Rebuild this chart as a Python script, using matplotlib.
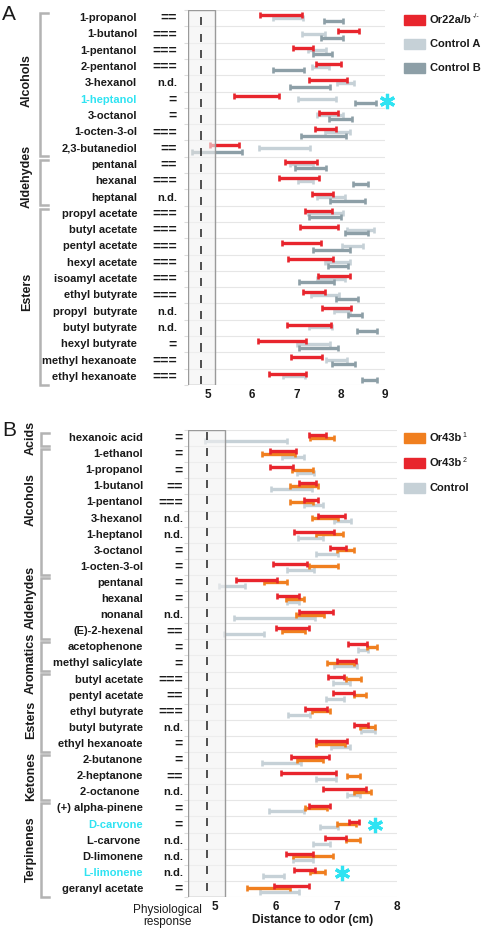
import numpy as np
import matplotlib.pyplot as plt
import matplotlib.transforms as mtrans
from matplotlib.patches import Rectangle

plt.rcParams['font.family'] = ['Liberation Sans', 'DejaVu Sans']

# ---- panel A data ----
a_names = ['1-propanol', '1-butanol', '1-pentanol', '2-pentanol', '3-hexanol',
           '1-heptanol', '3-octanol', '1-octen-3-ol', '2,3-butanediol',
           'pentanal', 'hexanal', 'heptanal',
           'propyl acetate', 'butyl acetate', 'pentyl acetate', 'hexyl acetate',
           'isoamyl acetate', 'ethyl butyrate', 'propyl  butyrate', 'butyl butyrate',
           'hexyl butyrate', 'methyl hexanoate', 'ethyl hexanoate']
a_marks = ['==', '===', '===', '===', 'n.d.', '=', '=', '===', '==',
           '==', '===', 'n.d.',
           '===', '===', '===', '===', '===', '===', 'n.d.', 'n.d.', '=', '===', '===']
# (label, first row, last row, label centre row)
a_groups = [('Alcohols', 0, 8, 3.8), ('Aldehydes', 9, 11, 9.7), ('Esters', 12, 22, 16.8)]
a_cyan = ['1-heptanol']
a_or22 = [(6.17, 7.12), (7.93, 8.41), (6.93, 7.38), (7.44, 8.01), (7.29, 8.14),
          (5.60, 6.61), (7.51, 7.95), (7.41, 7.89), (5.05, 5.71),
          (6.74, 7.46), (6.62, 7.52), (7.35, 7.83),
          (7.20, 7.81), (7.08, 7.95), (6.68, 7.55), (6.82, 7.83), (7.50, 8.20),
          (7.16, 7.65), (7.59, 8.23), (6.80, 7.78), (6.14, 7.22), (6.89, 7.57), (6.39, 7.22)]
a_ctrl_a = [(6.48, 7.16), (7.12, 7.65), (7.26, 7.68), (7.36, 7.74), (7.92, 8.30),
            (7.03, 7.89), (7.46, 8.06), (7.65, 8.20), (6.15, 7.31),
            (6.86, 7.38), (7.03, 7.38), (7.46, 8.10),
            (7.27, 8.06), (8.14, 8.76), (8.04, 8.51), (7.65, 8.21), (7.46, 8.10),
            (7.33, 7.97), (7.86, 8.20), (7.29, 7.80), (7.01, 7.77), (7.67, 8.14), (6.69, 7.20)]
a_ctrl_b = [(7.63, 8.05), (7.56, 8.05), (7.38, 7.81), (6.47, 7.18), (6.86, 7.77),
            (8.32, 8.80), (7.74, 8.25), (7.10, 8.11), (4.65, 5.78),
            (6.97, 7.68), (8.27, 8.62), (7.76, 8.56),
            (7.29, 8.01), (8.10, 8.62), (7.38, 8.20), (7.71, 8.16), (7.06, 7.86),
            (7.89, 8.38), (8.17, 8.48), (8.36, 8.81), (7.07, 7.95), (7.80, 8.32), (8.47, 8.83)]
a_stars = [(9.04, 5)]

# ---- panel B data ----
b_names = ['hexanoic acid', '1-ethanol', '1-propanol', '1-butanol', '1-pentanol',
           '3-hexanol', '1-heptanol', '3-octanol', '1-octen-3-ol',
           'pentanal', 'hexanal', 'nonanal', '(E)-2-hexenal',
           'acetophenone', 'methyl salicylate',
           'butyl acetate', 'pentyl acetate', 'ethyl butyrate', 'butyl butyrate',
           'ethyl hexanoate', '2-butanone', '2-heptanone', '2-octanone ',
           '(+) alpha-pinene', 'D-carvone', 'L-carvone ', 'D-limonene',
           'L-limonene', 'geranyl acetate']
b_marks = ['=', '=', '=', '==', '===', 'n.d.', 'n.d.', '=', '=',
           '=', '=', 'n.d.', '==', '=', '=',
           '===', '==', '===', 'n.d.', '=', '=', '==', 'n.d.',
           '=', '=', 'n.d.', 'n.d.', 'n.d.', '=']
b_groups = [('Acids', 0, 0, 0.0), ('Alcohols', 1, 8, 3.8), ('Aldehydes', 9, 12, 9.9),
            ('Aromatics', 13, 14, 14.0), ('Esters', 15, 19, 17.5), ('Ketones', 20, 22, 21.0),
            ('Terpinenes', 23, 28, 25.5)]
b_cyan = ['D-carvone', 'L-limonene']
b_or43b1 = [(6.57, 6.96), (5.78, 6.32), (6.26, 6.62), (6.24, 6.70), (6.23, 6.61),
            (6.60, 7.03), (6.67, 7.11), (7.00, 7.29), (6.55, 7.02),
            (5.80, 6.19), (6.17, 6.46), (6.34, 6.80), (6.11, 6.48),
            (7.50, 7.66), (6.85, 7.28),
            (7.15, 7.40), (7.28, 7.48), (6.60, 6.89), (7.39, 7.63), (6.67, 7.14),
            (6.35, 6.77), (7.18, 7.39), (7.29, 7.56),
            (6.48, 6.84), (7.00, 7.32), (7.15, 7.39), (6.29, 6.94), (6.57, 6.81), (5.53, 6.24)]
b_or43b2 = [(6.54, 6.82), (5.90, 6.34), (5.91, 6.28), (6.38, 6.67), (6.47, 6.69),
            (6.69, 7.14), (6.30, 6.96), (6.89, 7.15), (5.96, 6.51),
            (5.35, 6.02), (6.02, 6.38), (6.39, 6.94), (6.01, 6.54),
            (7.19, 7.50), (7.00, 7.32),
            (6.86, 7.12), (6.94, 7.28), (6.48, 6.84), (7.29, 7.51), (6.66, 7.17),
            (6.25, 6.88), (6.09, 6.99), (6.78, 7.48),
            (6.55, 6.90), (7.21, 7.37), (6.81, 7.15), (6.17, 6.61), (6.30, 6.64), (5.97, 6.54)]
b_ctrl = [(4.84, 6.19), (6.10, 6.46), (6.35, 6.63), (5.92, 6.59), (6.46, 6.77),
          (6.96, 7.24), (6.37, 6.77), (6.66, 7.02), (6.18, 6.63),
          (5.07, 5.50), (6.19, 6.38), (5.32, 6.65), (5.14, 5.81),
          (7.35, 7.51), (6.96, 7.33),
          (6.94, 7.22), (6.82, 7.13), (6.20, 6.57), (7.40, 7.64), (6.91, 7.22),
          (5.77, 6.41), (6.67, 6.99), (7.18, 7.39),
          (5.88, 6.47), (6.72, 7.03), (6.61, 6.89), (6.29, 6.61), (5.79, 6.14), (5.74, 6.38)]
b_stars = [(7.63, 24), (7.09, 27)]

RED = '#e8252d'
ORANGE = '#f07f1f'
LIGHT = '#c6d1d7'
DARK = '#8d9fa7'
CYAN = '#2fe3f2'
TXT = '#1a1a1a'

W, H = 482, 930
fig = plt.figure(figsize=(W / 100, H / 100), dpi=100)
axA = fig.add_axes([187.7 / W, 1 - 385 / H, (385 - 187.7) / W, 375 / H])
axB = fig.add_axes([187.7 / W, 1 - 897 / H, (397.3 - 187.7) / W, 467 / H])


def draw_bars(ax, ranges, offset, color, z):
    lo = np.array([r[0] for r in ranges])
    hi = np.array([r[1] for r in ranges])
    y = np.arange(len(ranges)) + offset
    ax.errorbar((lo + hi) / 2, y, xerr=(hi - lo) / 2, fmt='none', ecolor=color,
                elinewidth=2.4, capsize=2.3, capthick=1.9, zorder=z)


def setup(ax, n, xmin, xmax, box_right, dash_x, ticks, dash_span):
    ax.set_xlim(xmin, xmax)
    ax.set_ylim(n - 0.5, -0.5)
    ax.set_yticks(np.arange(n + 1) - 0.5)
    ax.set_yticklabels([])
    ax.tick_params(axis='y', length=3, color='#dddddd', width=0.8)
    ax.grid(axis='y', color='#e6e6e6', lw=0.8)
    ax.set_axisbelow(True)
    for s in ax.spines.values():
        s.set_visible(False)
    ax.set_xticks(ticks)
    ax.set_xticklabels([str(t) for t in ticks], fontsize=8.5, fontweight='bold', color=TXT)
    ax.tick_params(axis='x', length=0, pad=3)
    ax.axvspan(xmin, box_right, facecolor=(0.95, 0.95, 0.95, 0.6),
               edgecolor='#9a9a9a', lw=1.0, zorder=5)
    rows = np.arange(n)
    ax.vlines(np.full(n, dash_x), rows + dash_span[0], rows + dash_span[1],
              color='#333333', lw=1.2, zorder=6)


def labels(ax, names, marks, groups, cyan, name_x, mark_x, brk_x, grp_x):
    tr = mtrans.blended_transform_factory(fig.transFigure, ax.transData)
    for i, (nm, mk) in enumerate(zip(names, marks)):
        ax.text(name_x / W, i, nm, transform=tr, ha='right', va='center', fontsize=8,
                fontweight='bold', color=CYAN if nm.strip() in cyan else TXT)
        ax.text(mark_x / W, i, mk, transform=tr, ha='right', va='center',
                fontsize=8 if mk == 'n.d.' else 10, fontweight='bold', color=TXT)
    x0, x1 = brk_x / W, (brk_x + 8) / W
    for g, a, b, c in groups:
        top, bot = a - 0.32, b + 0.48
        ax.plot([x1, x0, x0, x1], [top, top, bot, bot], transform=tr, color='#b3b3b3',
                lw=1.8, clip_on=False, solid_joinstyle='miter')
        ax.text(grp_x / W, c, g, transform=tr, rotation=90, ha='center',
                va='center', fontsize=9, fontweight='bold', color=TXT)


# panel A
setup(axA, len(a_names), 4.55, 9.0, 5.165, 4.86, [5, 6, 7, 8, 9], (-0.05, 0.45))
draw_bars(axA, a_ctrl_a, -0.03, LIGHT, 2)
draw_bars(axA, a_ctrl_b, 0.2, DARK, 3)
draw_bars(axA, a_or22, -0.2, RED, 4)
for sx, sy in a_stars:
    axA.plot(sx, sy + 0.1, marker=(6, 2, 0), ms=11, mew=2.3, color=CYAN, clip_on=False)
labels(axA, a_names, a_marks, a_groups, a_cyan, 137, 177, 40, 27)

# panel B
setup(axB, len(b_names), 4.55, 8.0, 5.157, 4.86, [5, 6, 7, 8], (-0.4, 0.1))
draw_bars(axB, b_ctrl, 0.18, LIGHT, 2)
draw_bars(axB, b_or43b1, -0.03, ORANGE, 3)
draw_bars(axB, b_or43b2, -0.18, RED, 4)
for sx, sy in b_stars:
    axB.plot(sx, sy, marker=(6, 2, 0), ms=11, mew=2.3, color=CYAN, clip_on=False)
labels(axB, b_names, b_marks, b_groups, b_cyan, 143, 183, 41, 31)


def legend_entry(y_px, color, label, sup=''):
    fig.add_artist(Rectangle((404 / W, 1 - (y_px + 5) / H), 21 / W, 10 / H,
                             transform=fig.transFigure, color=color))
    t = fig.text(430 / W, 1 - y_px / H, label, ha='left', va='center', fontsize=8,
                 fontweight='bold', color=TXT)
    if sup:
        axA.annotate(sup, xy=(1.0, 0.8), xycoords=t, xytext=(0.5, 0),
                     textcoords='offset points', ha='left', va='center',
                     fontsize=5, color=TXT, annotation_clip=False)


legend_entry(20, RED, 'Or22a/b', '-/-')
legend_entry(44, LIGHT, 'Control A')
legend_entry(68, DARK, 'Control B')
legend_entry(438, ORANGE, 'Or43b', '1')
legend_entry(463, RED, 'Or43b', '2')
legend_entry(488, LIGHT, 'Control')

fig.text(2 / W, 1 - 5 / H, 'A', fontsize=15, va='top', ha='left', color=TXT)
fig.text(2 / W, 1 - 421 / H, 'B', fontsize=15, va='top', ha='left', color=TXT)
fig.text(167 / W, 1 - 916 / H, 'Physiological\nresponse', fontsize=8.5, ha='center',
         va='center', color=TXT, linespacing=1.0)
fig.text(313 / W, 1 - 920 / H, 'Distance to odor (cm)', fontsize=8.5, ha='center',
         va='center', fontweight='bold', color=TXT)

fig.savefig('out.png', dpi=100)
